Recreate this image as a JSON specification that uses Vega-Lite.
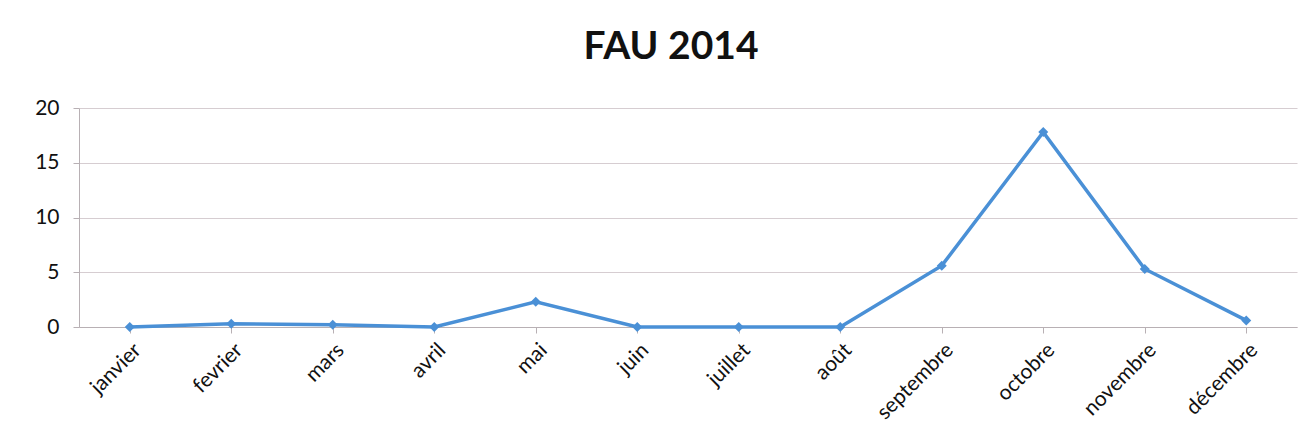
{
  "$schema": "https://vega.github.io/schema/vega-lite/v6.json",
  "autosize": "none",
  "width": 1218,
  "height": 219,
  "padding": {"left": 79, "top": 108, "right": 17, "bottom": 115},
  "background": "white",
  "title": {
    "text": "FAU 2014",
    "font": "Lato",
    "fontSize": 39,
    "fontWeight": "bold",
    "color": "#111111",
    "anchor": "middle",
    "offset": 30,
    "dx": -17
  },
  "data": {
    "values": [
      {"mois": "janvier", "valeur": 0},
      {"mois": "fevrier", "valeur": 0.3},
      {"mois": "mars", "valeur": 0.2},
      {"mois": "avril", "valeur": 0},
      {"mois": "mai", "valeur": 2.3},
      {"mois": "juin", "valeur": 0},
      {"mois": "juillet", "valeur": 0},
      {"mois": "août", "valeur": 0},
      {"mois": "septembre", "valeur": 5.6},
      {"mois": "octobre", "valeur": 17.8},
      {"mois": "novembre", "valeur": 5.3},
      {"mois": "décembre", "valeur": 0.6}
    ]
  },
  "config": {
    "view": {"stroke": null},
    "axis": {
      "labelFont": "Lato",
      "labelFontSize": 21,
      "labelColor": "#111111",
      "domainColor": "#b8b0b4",
      "tickColor": "#b8b0b4",
      "gridColor": "#d6cdd1",
      "title": null
    }
  },
  "mark": {
    "type": "line",
    "color": "#4a90d6",
    "strokeWidth": 3.5,
    "point": {"shape": "diamond", "size": 100, "color": "#4a90d6", "filled": true}
  },
  "encoding": {
    "x": {
      "field": "mois",
      "type": "nominal",
      "sort": null,
      "scale": {"paddingInner": 0, "paddingOuter": 0},
      "axis": {
        "labelAngle": -45,
        "labelPadding": 6,
        "tickSize": 6,
        "bandPosition": 0,
        "grid": false,
        "domain": true
      }
    },
    "y": {
      "field": "valeur",
      "type": "quantitative",
      "scale": {"domain": [0, 20], "nice": false},
      "axis": {
        "values": [0, 5, 10, 15, 20],
        "tickSize": 6,
        "labelPadding": 14,
        "grid": true
      }
    }
  }
}
